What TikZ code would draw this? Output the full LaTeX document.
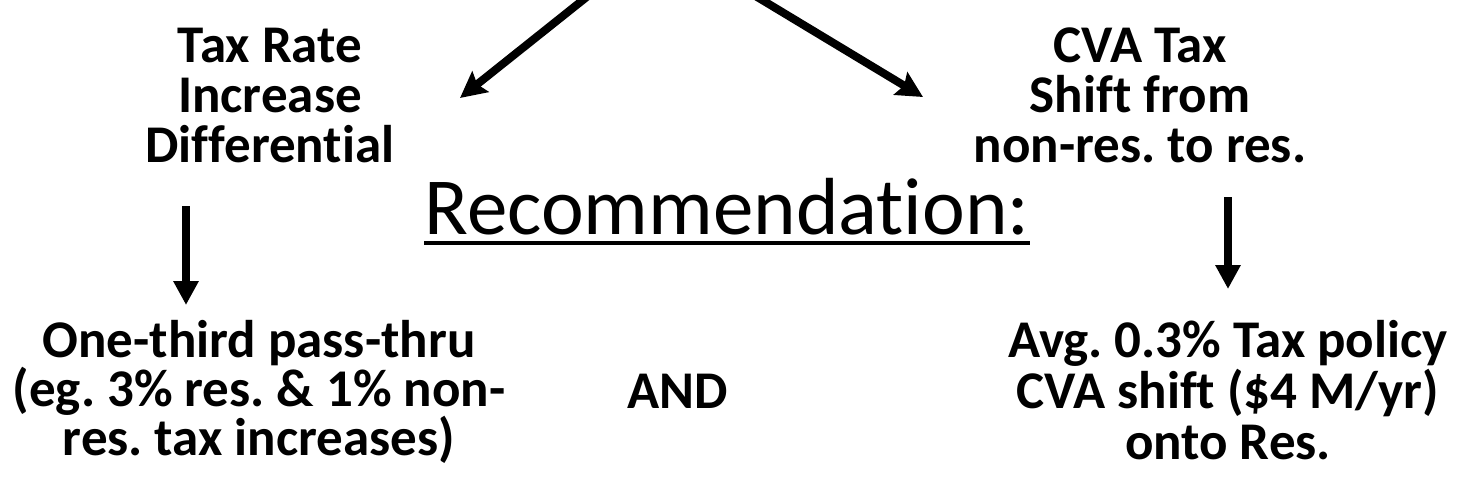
\documentclass[tikz,border=0pt]{standalone}
\usepackage{fontspec}
\setmainfont{Carlito}[Ligatures=CommonOff]
\usepackage{tikz}
\usetikzlibrary{arrows.meta, positioning}
\frenchspacing
\tikzset{
  boldtext/.style={inner sep=0pt, align=center,
    font=\fontsize{26.5}{25}\selectfont\bfseries},
  headline/.style={inner sep=0pt, font=\fontsize{40.5}{48}\selectfont},
  arrow/.style={-{Triangle[length=12pt, width=12pt]}, line width=4pt},
  slantarrow/.style={-{Stealth[length=13pt, width=13pt, inset=2pt]}, line width=4pt},
}

\begin{document}
\begin{tikzpicture}[x=0.5pt, y=-0.5pt]
  \useasboundingbox (0,0) rectangle (1468,499);
  \clip (0,0) rectangle (1468,499);
  \node[boldtext, anchor=north] at (270,28)
    (rate) {Tax Rate\\Increase\\Differential};
  \node[boldtext, anchor=north] at (1140,27)
    (cva) {CVA Tax\\Shift from\\non-res. to res.};
  \node[headline, anchor=base] at (727,234) (rec) {Recommendation:};
  \draw[line width=2pt] ([yshift=-4.5pt]rec.base west) -- ([yshift=-4.5pt]rec.base east);
  \node[boldtext, anchor=north, font=\fontsize{26.5}{24.5}\selectfont\bfseries] at (259,320)
    (passthru) {One-third pass-thru\\(eg. 3\% res. \& 1\% non-\\res. tax increases)};
  \node[boldtext, anchor=north] at (678,374) (and) {AND};
  \node[boldtext, anchor=north, font=\fontsize{26.5}{25.5}\selectfont\bfseries] at (1228,320)
    (shift) {Avg. 0.3\% Tax policy\\CVA shift (\$4 M/yr)\\onto Res.};
  % arrows from above the picture
  \coordinate (fromL) at (608,-20);
  \coordinate (fromR) at (729,-20);
  \coordinate (toL) at (460,98);
  \coordinate (toR) at (923,97);
  \draw[slantarrow] (fromL) -- (toL);
  \draw[slantarrow] (fromR) -- (toR);
  % down arrows
  \coordinate (rateout) at (186,206);
  \coordinate (passin) at (186,305);
  \coordinate (cvaout) at (1228,197);
  \coordinate (shiftin) at (1228,289);
  \draw[arrow] (rateout) -- (passin);
  \draw[arrow] (cvaout) -- (shiftin);
\end{tikzpicture}
\end{document}
